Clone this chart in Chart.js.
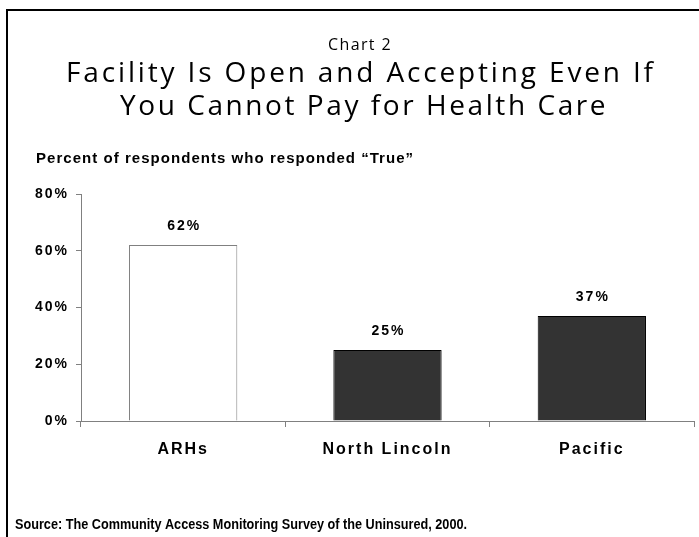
<!DOCTYPE html>
<html><head><meta charset="utf-8">
<script src="https://cdn.jsdelivr.net/npm/chart.js@4.4.1/dist/chart.umd.min.js"></script>
<style>html,body{margin:0;padding:0;background:#fff;overflow:hidden}#wrap{width:699px;height:537px;position:relative}</style>
</head><body><div id="wrap"><canvas id="c" width="699" height="537"></canvas></div>
<script>
const chartNumber = 'Chart 2';
const titleLines = ['Facility Is Open and Accepting Even If', 'You Cannot Pay for Health Care'];
const subtitleText = 'Percent of respondents who responded \u201CTrue\u201D';
const sourceText = 'Source: The Community Access Monitoring Survey of the Uninsured, 2000.';
const categories = ['ARHs', 'North Lincoln', 'Pacific'];
const values = [62, 25, 37];
const barColors = ['#ffffff', '#333333', '#333333'];
const barBorders = ['#808080', '#000000', '#000000'];
const yMin = 0, yMax = 80, yStep = 20;

function fitText(ctx, text, x, y, width, align) {
  ctx.letterSpacing = '0px';
  const w = ctx.measureText(text).width;
  const n = text.length;
  const sp = (width - w) / n;
  ctx.letterSpacing = sp.toFixed(2) + 'px';
  ctx.textAlign = 'left';
  let sx = x;
  if (align === 'center') sx = x - width / 2;
  ctx.fillText(text, sx, y);
  ctx.letterSpacing = '0px';
}

const decor = {
  id: 'decor',
  beforeUpdate(chart) { chart.ctx.letterSpacing = '2px'; },
  beforeDraw(chart) { chart.ctx.letterSpacing = '2px'; },
  afterDatasetsDraw(chart) {
    const ctx = chart.ctx;
    ctx.save();
    ctx.letterSpacing = '2px';
    ctx.font = 'bold 14px "Liberation Sans", Arial, sans-serif';
    ctx.fillStyle = '#000';
    ctx.textAlign = 'center';
    ctx.textBaseline = 'alphabetic';
    chart.getDatasetMeta(0).data.forEach((bar, i) => {
      ctx.fillText(values[i] + '%', bar.x + 1, bar.y - 15);
    });
    ctx.restore();
  },
  afterDraw(chart) {
    const ctx = chart.ctx;
    ctx.save();
    ctx.letterSpacing = '0px';
    ctx.strokeStyle = '#000';
    ctx.lineWidth = 2;
    ctx.beginPath();
    ctx.moveTo(7, 537);
    ctx.lineTo(7, 10);
    ctx.lineTo(699, 10);
    ctx.stroke();
    ctx.fillStyle = '#000';
    ctx.textBaseline = 'alphabetic';
    ctx.font = '16px "Open Sans", sans-serif';
    fitText(ctx, chartNumber, 360, 50, 64, 'center');
    ctx.font = '28px "Open Sans", sans-serif';
    fitText(ctx, titleLines[0], 361, 82, 590, 'center');
    fitText(ctx, titleLines[1], 364, 115, 488, 'center');
    ctx.font = 'bold 15px "Liberation Sans", Arial, sans-serif';
    fitText(ctx, subtitleText, 36, 163, 378, 'left');
    ctx.font = 'bold 14px "Liberation Sans", Arial, sans-serif';
    ctx.textAlign = 'left';
    ctx.fillText(sourceText, 15, 529, 452);
    ctx.restore();
  }
};

new Chart(document.getElementById('c'), {
  type: 'bar',
  data: {
    labels: categories,
    datasets: [{
      data: values,
      backgroundColor: barColors,
      borderColor: barBorders,
      borderWidth: 1,
      categoryPercentage: 1,
      barPercentage: 0.53
    }]
  },
  options: {
    responsive: false,
    animation: false,
    devicePixelRatio: 1,
    layout: { padding: { top: 194, left: 0, right: 5, bottom: 76 } },
    plugins: { legend: { display: false }, tooltip: { enabled: false }, title: { display: false } },
    scales: {
      x: {
        type: 'category',
        offset: true,
        grid: { offset: true, drawOnChartArea: false, drawTicks: true, tickLength: 6, color: '#808080', lineWidth: 1 },
        border: { color: '#808080', width: 1 },
        ticks: { color: '#000', font: { family: '"Liberation Sans", Arial, sans-serif', size: 16, weight: 'bold' }, padding: 13, maxRotation: 0, autoSkip: false },
        afterFit(s) { s.height = 40; }
      },
      y: {
        min: yMin, max: yMax,
        ticks: { stepSize: yStep, color: '#000', font: { family: '"Liberation Sans", Arial, sans-serif', size: 14, weight: 'bold' }, padding: 7, callback: v => v + '%' },
        grid: { drawOnChartArea: false, drawTicks: true, tickLength: 5, color: '#808080', lineWidth: 1 },
        border: { color: '#808080', width: 1 },
        afterFit(s) { s.width = 81; }
      }
    }
  },
  plugins: [decor]
});
</script>
</body></html>
